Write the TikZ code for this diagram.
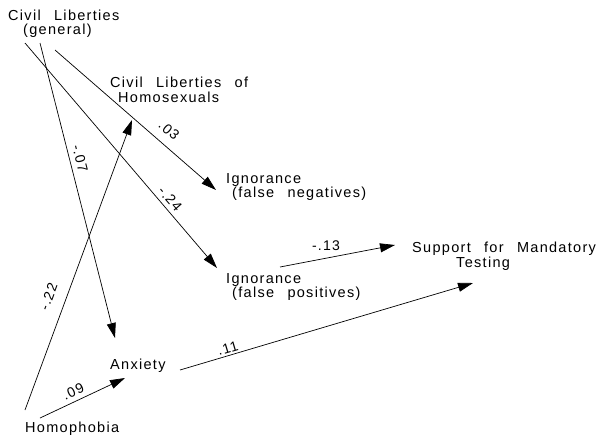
\documentclass[tikz,border=0pt]{standalone}
\usepackage{fontspec}
\setmainfont{Liberation Sans}[LetterSpace=9,WordSpace=2.5]
\usetikzlibrary{arrows.meta}
\begin{document}
\begin{tikzpicture}[x=1pt,y=-1pt,
  txt/.style={anchor=north west,inner sep=0pt,align=left,font=\fontsize{14.5}{14.5}\selectfont},
  lbl/.style={inner sep=0pt,font=\fontsize{14}{14}\selectfont},
  arr/.style={line width=0.7pt,-{Triangle[length=15pt,width=9pt]}}]
\useasboundingbox (0,0) rectangle (609,440);
% texts
\node[txt] (clg) at (8,9.5) {Civil Liberties\\\hspace*{15pt}(general)};
\node[txt] (clh) at (110,77) {Civil Liberties of\\\hspace*{8pt}Homosexuals};
\node[txt] (ifn) at (226,173) {Ignorance\\\hspace*{6pt}(false negatives)};
\node[txt] (ifp) at (226,273) {Ignorance\\\hspace*{6pt}(false positives)};
\node[txt] (sup) at (412,242) {Support for Mandatory\\\hspace*{44pt}Testing};
\node[txt] (anx) at (110,359) {Anxiety};
\node[txt] (hom) at (25,422) {Homophobia};
% connector end points
\coordinate (s1) at (55,50);   \coordinate (e1) at (216,190);
\coordinate (s2) at (25,43);   \coordinate (e2) at (217,268);
\coordinate (s3) at (40,43);   \coordinate (e3) at (115,338);
\coordinate (s4) at (25,410);  \coordinate (e4) at (132,120);
\coordinate (s5) at (40,418);  \coordinate (e5) at (125,378);
\coordinate (s6) at (180,370); \coordinate (e6) at (473,283);
\coordinate (s7) at (280,267); \coordinate (e7) at (395,245);
% connectors
\draw[arr] (s1) -- node[lbl,sloped,pos=0.65,above=9pt] {.03} (e1);
\draw[arr] (s2) -- node[lbl,sloped,pos=0.72,above=4pt] {-.24} (e2);
\draw[arr] (s3) -- node[lbl,sloped,pos=0.40,above=5pt] {-.07} (e3);
\draw[arr] (s4) -- node[lbl,sloped,pos=0.37,above=12pt] {-.22} (e4);
\draw[arr] (s5) -- node[lbl,sloped,pos=0.44,above=4.5pt] {.09} (e5);
\draw[arr] (s6) -- node[lbl,sloped,pos=0.17,above=2pt] {.11} (e6);
\draw[arr] (s7) -- node[lbl,pos=0.40,above=7pt] {-.13} (e7);
\end{tikzpicture}
\end{document}
